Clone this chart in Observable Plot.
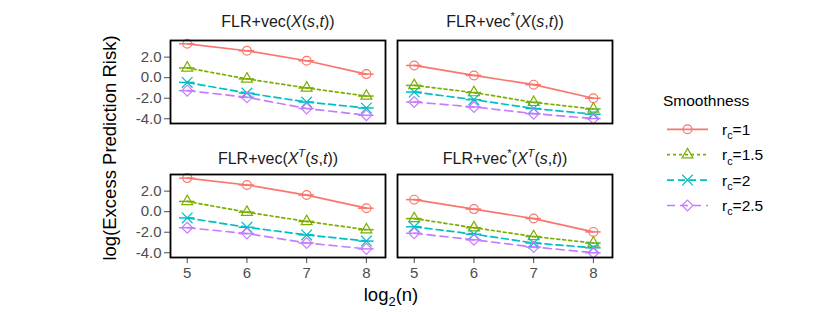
<!DOCTYPE html>
<html><head><meta charset="utf-8">
<script src="https://cdn.jsdelivr.net/npm/d3@7"></script>
<script src="https://cdn.jsdelivr.net/npm/@observablehq/plot@0.6"></script>
<style>
body{margin:0;background:#fff;}
#wrap{position:relative;width:830px;height:312px;}
</style></head><body><div id="wrap"></div>
<script>
// ---- data ----
const log2n = [5, 6, 7, 8];
const smoothness = ["1", "1.5", "2", "2.5"];
const seriesColors = ["#F8766D", "#7CAE00", "#00BFC4", "#C77CFF"];
const seriesDash = [null, "3,3", "7,4", "8,5"];
const seriesSymbols = ["circle", "triangle2", "times", "diamond2"];
const seriesRadius = [4.4, 5.2, 4.9, 4.9];
const yTicks = [-4, -2, 0, 2];

// rows: smoothness r_c = 1, 1.5, 2, 2.5 ; columns: log2(n) = 5..8
const riskVecX = [
  [3.30, 2.62, 1.65, 0.35],
  [0.95, -0.12, -1.00, -1.79],
  [-0.46, -1.50, -2.37, -2.95],
  [-1.26, -1.91, -3.00, -3.66]
];
const riskVecStarX = [
  [1.19, 0.22, -0.68, -2.00],
  [-0.75, -1.45, -2.40, -3.05],
  [-1.40, -2.14, -3.00, -3.56],
  [-2.37, -2.85, -3.50, -3.98]
];
const riskVecXT = [
  [3.27, 2.60, 1.62, 0.34],
  [1.00, -0.05, -0.95, -1.75],
  [-0.61, -1.52, -2.26, -2.86],
  [-1.56, -2.13, -3.05, -3.62]
];
const riskVecStarXT = [
  [1.17, 0.25, -0.67, -1.97],
  [-0.67, -1.56, -2.42, -3.05],
  [-1.47, -2.19, -3.05, -3.52],
  [-2.10, -2.74, -3.44, -4.00]
];

// facet titles as [text, style] segments
const titleVecX = [["FLR+vec(", "n"], ["X", "i"], ["(", "n"], ["s", "i"], [",", "n"], ["t", "i"], ["))", "n"]];
const titleVecStarX = [["FLR+vec", "n"], ["*", "sup"], ["(", "n"], ["X", "i"], ["(", "n"], ["s", "i"], [",", "n"], ["t", "i"], ["))", "n"]];
const titleVecXT = [["FLR+vec(", "n"], ["X", "i"], ["T", "supi"], ["(", "n"], ["s", "i"], [",", "n"], ["t", "i"], ["))", "n"]];
const titleVecStarXT = [["FLR+vec", "n"], ["*", "sup"], ["(", "n"], ["X", "i"], ["T", "supi"], ["(", "n"], ["s", "i"], [",", "n"], ["t", "i"], ["))", "n"]];

const panels = [
  {values: riskVecX, col: 0, row: 0, title: titleVecX},
  {values: riskVecStarX, col: 1, row: 0, title: titleVecStarX},
  {values: riskVecXT, col: 0, row: 1, title: titleVecXT},
  {values: riskVecStarXT, col: 1, row: 1, title: titleVecStarXT}
];

const data = [];
panels.forEach(p => p.values.forEach((vals, si) => vals.forEach((v, xi) =>
  data.push({col: p.col, row: p.row, r: smoothness[si], x: log2n[xi], y: v}))));
const titles = panels.map(p => ({col: p.col, row: p.row, label: p.title.map(s => s[0]).join(""), segs: p.title}));

const FONT = "Liberation Sans, Arial, Helvetica, sans-serif";
const capHalf = 0.13; // error-bar cap half width (in x units)
const TITLE_FS = 16, TICK_FS = 15, AXIS_FS = 18.5, LEG_FS = 15.5;
const LW = 1.7;

const marks = [
  Plot.axisX({ticks: log2n, tickFormat: d => String(d), tickSize: 6, tickPadding: 4, color: "#4D4D4D", label: null, fontSize: TICK_FS}),
  Plot.axisY({ticks: yTicks, tickFormat: d => d.toFixed(1), tickSize: 6, tickPadding: 3, color: "#4D4D4D", label: null, fontSize: TICK_FS}),
];
smoothness.forEach((s, i) => {
  const sub = data.filter(d => d.r === s);
  marks.push(Plot.ruleY(sub, {y: "y", x1: d => d.x - capHalf, x2: d => d.x + capHalf, fx: "col", fy: "row", stroke: seriesColors[i], strokeWidth: 1.5}));
});
smoothness.forEach((s, i) => {
  const sub = data.filter(d => d.r === s);
  marks.push(Plot.line(sub, {x: "x", y: "y", z: "r", fx: "col", fy: "row", stroke: seriesColors[i], strokeWidth: LW, strokeDasharray: seriesDash[i]}));
});
smoothness.forEach((s, i) => {
  const sub = data.filter(d => d.r === s);
  marks.push(Plot.dot(sub, {x: "x", y: "y", fx: "col", fy: "row", symbol: "r", stroke: "r", fill: "none", r: seriesRadius[i], strokeWidth: 1.2}));
});
marks.push(Plot.frame({stroke: "black", strokeWidth: 1.8}));
marks.push(Plot.text(titles.filter(t => t.row === 0), {fx: "col", fy: "row", text: "label", frameAnchor: "top", lineAnchor: "bottom", dy: -14, fontSize: TITLE_FS, fill: "#1A1A1A"}));
marks.push(Plot.text(titles.filter(t => t.row === 1), {fx: "col", fy: "row", text: "label", frameAnchor: "top", lineAnchor: "bottom", dy: -11, fontSize: TITLE_FS, fill: "#1A1A1A"}));

const chart = Plot.plot({
  width: 830, height: 312,
  marginLeft: 170, marginRight: 218, marginTop: 40, marginBottom: 55,
  style: {fontFamily: FONT, fontSize: "13px", background: "white", overflow: "visible"},
  fx: {domain: [0, 1], paddingInner: 0.0529, paddingOuter: 0, axis: null},
  fy: {domain: [0, 1], paddingInner: 0.3806, paddingOuter: 0, axis: null},
  x: {domain: [4.72, 8.32]},
  y: {domain: [-4.46, 3.62]},
  color: {domain: smoothness, range: seriesColors},
  symbol: {domain: smoothness, range: seriesSymbols},
  marks
});
document.getElementById("wrap").appendChild(chart);

const svg = d3.select(chart);

// rich text (italic / super- / subscripts)
function fillRich(node, segs, base) {
  node.textContent = "";
  let shift = 0;
  segs.forEach(([txt, st]) => {
    const t = d3.select(node).append("tspan").text(txt);
    const want = (st === "sup" || st === "supi") ? -0.38 * base : (st === "sub" ? 0.28 * base : 0);
    if (want !== shift) { t.attr("dy", want - shift); shift = want; }
    if (st === "i" || st === "supi") t.attr("font-style", "italic");
    if (st === "sup" || st === "supi" || st === "sub") t.attr("font-size", base * 0.7);
  });
}
svg.selectAll("text").each(function () {
  const t = titles.find(t => t.label === this.textContent);
  if (t) fillRich(this, t.segs, TITLE_FS);
});

// axis titles
svg.append("text")
  .attr("transform", "translate(115.5,148) rotate(-90)")
  .attr("text-anchor", "middle").attr("font-size", AXIS_FS).attr("fill", "black")
  .attr("font-family", FONT)
  .text("log(Excess Prediction Risk)");
const xt = svg.append("text").attr("x", 391).attr("y", 300.5)
  .attr("text-anchor", "middle").attr("font-size", AXIS_FS).attr("fill", "black").attr("font-family", FONT).node();
fillRich(xt, [["log", "n"], ["2", "sub"], ["(n)", "n"]], AXIS_FS);

// legend
const symType = {circle: d3.symbolCircle, triangle2: d3.symbolTriangle2, times: d3.symbolTimes, diamond2: d3.symbolDiamond2};
const lg = svg.append("g").attr("font-family", FONT).attr("text-anchor", "start");
lg.append("text").attr("x", 663).attr("y", 106).attr("font-size", LEG_FS).attr("fill", "black").text("Smoothness");
smoothness.forEach((s, i) => {
  const cy = 129.3 + i * 25.4;
  lg.append("line").attr("x1", 667).attr("x2", 708).attr("y1", cy).attr("y2", cy)
    .attr("stroke", seriesColors[i]).attr("stroke-width", LW)
    .attr("stroke-dasharray", seriesDash[i]);
  const rr = seriesRadius[i];
  lg.append("path").attr("transform", `translate(687.5,${cy})`)
    .attr("d", d3.symbol(symType[seriesSymbols[i]], rr * rr * Math.PI)())
    .attr("fill", "none").attr("stroke", seriesColors[i]).attr("stroke-width", 1.2);
  const lab = lg.append("text").attr("x", 722).attr("y", cy + 5.5).attr("font-size", LEG_FS).attr("fill", "black").node();
  fillRich(lab, [["r", "n"], ["c", "sub"], ["=" + s, "n"]], LEG_FS);
});
</script></body></html>
